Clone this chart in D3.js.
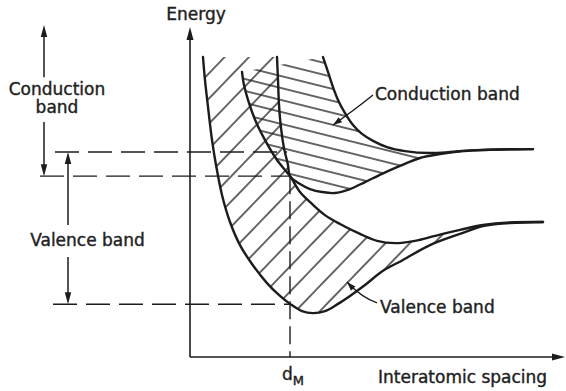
<!DOCTYPE html>
<html><head><meta charset="utf-8">
<script src="https://cdn.jsdelivr.net/npm/d3@7"></script>
<style>html,body{margin:0;padding:0;background:#fff;overflow:hidden}</style>
</head><body>
<svg id="c" width="566" height="391"></svg>
<script>
// ---- data (x: interatomic spacing, arbitrary units; y: energy, arbitrary units) ----
const valenceLower = [[0.52,9.09],[0.6,8.39],[0.72,7.58],[0.88,6.58],[1.04,5.82],[1.28,4.91],[1.6,4.09],[2.0,3.39],[2.48,2.82],[3.08,2.24],[3.6,1.85],[4.0,1.61],[4.48,1.39],[4.92,1.33],[5.4,1.39],[5.92,1.61],[6.4,1.85],[7.0,2.18],[7.72,2.61],[8.52,2.94],[9.6,3.39],[10.8,3.73],[11.72,3.97],[12.8,4.06],[14.12,4.09]];
const valenceUpper = [[2.08,8.64],[2.16,8.24],[2.32,7.79],[2.64,7.12],[3.04,6.52],[3.48,5.97],[4.0,5.48],[4.4,5.0],[4.88,4.64],[5.4,4.3],[6.0,4.03],[6.8,3.73],[7.48,3.52],[8.2,3.45],[9.0,3.52],[9.8,3.67],[10.8,3.85],[11.72,4.0],[12.8,4.08],[14.12,4.09]];
const conductionLower = [[3.48,9.09],[3.52,8.39],[3.56,7.64],[3.64,6.94],[3.76,6.33],[3.92,5.82],[4.0,5.48],[4.4,5.24],[4.8,5.09],[5.28,5.0],[5.8,4.97],[6.4,5.09],[7.0,5.3],[7.68,5.55],[8.4,5.79],[9.2,6.03],[10.0,6.15],[10.8,6.23],[11.6,6.27],[12.4,6.29],[13.72,6.3]];
const conductionUpper = [[5.32,9.09],[5.52,8.64],[5.72,8.18],[5.92,7.79],[6.2,7.39],[6.52,7.03],[6.88,6.76],[7.32,6.55],[7.88,6.36],[8.6,6.24],[9.6,6.18],[10.4,6.21],[11.2,6.26],[12.4,6.29],[13.72,6.3]];
const crossing = [4.0, 5.48];          // where the two inner curves meet
const dM = 4.0;                         // equilibrium spacing d_M
const levels = [                        // dashed energy levels [energy, xStart, xEnd]
  [6.21, -5.4, 3.88],
  [5.48, -6.0, 4.0],
  [1.60, -5.48, 4.0]
];
const leftArrows = [                    // [x, fromE, toE(tip)]
  [-5.84, 8.48, 10.06],
  [-5.84, 7.12, 5.48],
  [-4.88, 4.0, 6.21],
  [-4.88, 3.03, 1.60]
];
const labels = [                        // [text, x, y, anchor]
  ["Energy", 0.24, 10.21, "middle"],
  ["Conduction", -5.32, 7.94, "middle"],
  ["band", -5.32, 7.39, "middle"],
  ["Valence band", -4.1, 3.36, "middle"],
  ["Conduction band", 7.4, 7.79, "start"],
  ["Valence band", 7.6, 1.33, "start"],
  ["Interatomic spacing", 7.52, -0.79, "start"]
];
const leaders = [                       // [from, control, tip]
  [[7.32,7.94],[6.6,7.5],[5.72,7.03]],
  [[7.48,1.64],[6.88,1.79],[6.28,2.27]]
];
const axisMax = [15, 10];

// ---- scales ----
const x = d3.scaleLinear().domain([0,15]).range([190,565]);
const y = d3.scaleLinear().domain([0,10]).range([357,27]);

const svg = d3.select("#c");
svg.append("rect").attr("width",566).attr("height",391).attr("fill","#fff");
const ink = "#1c1c1c";
const line = d3.line().x(d=>x(d[0])).y(d=>y(d[1])).curve(d3.curveCatmullRom.alpha(0.5));

// ---- hatch patterns ----
const defs = svg.append("defs");
function hatch(id, angle, gap){
  const p = defs.append("pattern").attr("id",id).attr("patternUnits","userSpaceOnUse")
    .attr("width",gap).attr("height",gap).attr("patternTransform",`rotate(${angle})`);
  p.append("line").attr("x1",-1).attr("x2",gap+1).attr("y1",gap/2).attr("y2",gap/2)
    .attr("stroke","#1f1f1f").attr("stroke-width",1.35);
}
hatch("hv",-46,17.5);
hatch("hc",14,11.6);

function idxOf(arr, pt){ return arr.findIndex(p=>p[0]===pt[0] && p[1]===pt[1]); }
function join(segs){
  return segs.map((s,i)=>{ const d=line(s); return i===0? d : "L"+d.slice(1); }).join("")+"Z";
}
const iB = idxOf(valenceUpper, crossing), iC = idxOf(conductionLower, crossing);
const valRegion = join([
  valenceLower,
  valenceUpper.slice(iB).reverse(),
  conductionLower.slice(0, iC+1).reverse()
]);
const conRegion = join([
  conductionUpper,
  conductionLower.slice(iC).reverse(),
  valenceUpper.slice(0, iB+1).reverse()
]);
svg.append("path").attr("d",valRegion).attr("fill","url(#hv)");
svg.append("path").attr("d",conRegion).attr("fill","url(#hc)");

// ---- dashed lines ----
levels.forEach(l=>{
  svg.append("line").attr("x1",x(l[1])).attr("x2",x(l[2])).attr("y1",y(l[0])).attr("y2",y(l[0]))
    .attr("stroke",ink).attr("stroke-width",1.4).attr("stroke-dasharray","24,9");
});
svg.append("line").attr("x1",x(dM)).attr("x2",x(dM)).attr("y1",y(crossing[1])).attr("y2",y(0))
  .attr("stroke",ink).attr("stroke-width",1.4).attr("stroke-dasharray","18,7");

// ---- curves ----
[valenceLower, valenceUpper, conductionLower, conductionUpper].forEach(c=>{
  svg.append("path").attr("d",line(c)).attr("fill","none").attr("stroke",ink)
    .attr("stroke-width",2.4).attr("stroke-linecap","round");
});

// ---- arrow helper ----
function head(tx,ty,ang,len,wid){
  const c=Math.cos(ang), s=Math.sin(ang);
  const bx=tx-c*len, by=ty-s*len;
  svg.append("path").attr("d",`M${tx},${ty}L${bx-s*wid/2},${by+c*wid/2}L${bx+s*wid/2},${by-c*wid/2}Z`)
    .attr("fill",ink);
}

// ---- axes ----
svg.append("line").attr("x1",x(0)).attr("x2",x(0)).attr("y1",y(0)).attr("y2",y(axisMax[1])+6)
  .attr("stroke",ink).attr("stroke-width",1.6);
svg.append("line").attr("x1",x(0)).attr("x2",x(axisMax[0])-6).attr("y1",y(0)).attr("y2",y(0))
  .attr("stroke",ink).attr("stroke-width",1.6);
head(x(0),y(axisMax[1]),-Math.PI/2,13,7);
head(x(axisMax[0]),y(0),0,13,7);

// ---- left arrows ----
leftArrows.forEach(a=>{
  const X=x(a[0]), y1=y(a[1]), y2=y(a[2]);
  const dir = y2<y1 ? -1 : 1;
  svg.append("line").attr("x1",X).attr("x2",X).attr("y1",y1).attr("y2",y2-dir*6)
    .attr("stroke",ink).attr("stroke-width",1.5);
  head(X,y2,dir<0?-Math.PI/2:Math.PI/2,12,6.5);
});

// ---- leaders ----
leaders.forEach(l=>{
  const [a,c,t]=l;
  svg.append("path").attr("d",`M${x(a[0])},${y(a[1])}Q${x(c[0])},${y(c[1])} ${x(t[0])},${y(t[1])}`)
    .attr("fill","none").attr("stroke",ink).attr("stroke-width",1.4);
  const ang=Math.atan2(y(t[1])-y(c[1]), x(t[0])-x(c[0]));
  head(x(t[0]),y(t[1]),ang,9,6);
});

// ---- labels ----
const fontFam = "'DejaVu Sans', sans-serif";
labels.forEach(l=>{
  svg.append("text").attr("x",x(l[1])).attr("y",y(l[2])).attr("text-anchor",l[3])
    .attr("font-family",fontFam).attr("font-size",17).attr("fill","#222")
    .attr("stroke","#222").attr("stroke-width",0.4).text(l[0]);
});
const dm = svg.append("text").attr("x",x(dM)-8).attr("y",y(-0.70))
  .attr("font-family",fontFam).attr("font-size",17).attr("fill","#222").attr("stroke","#222").attr("stroke-width",0.4);
dm.append("tspan").text("d");
dm.append("tspan").attr("font-size",13).attr("dy",5).text("M");
</script>
</body></html>
